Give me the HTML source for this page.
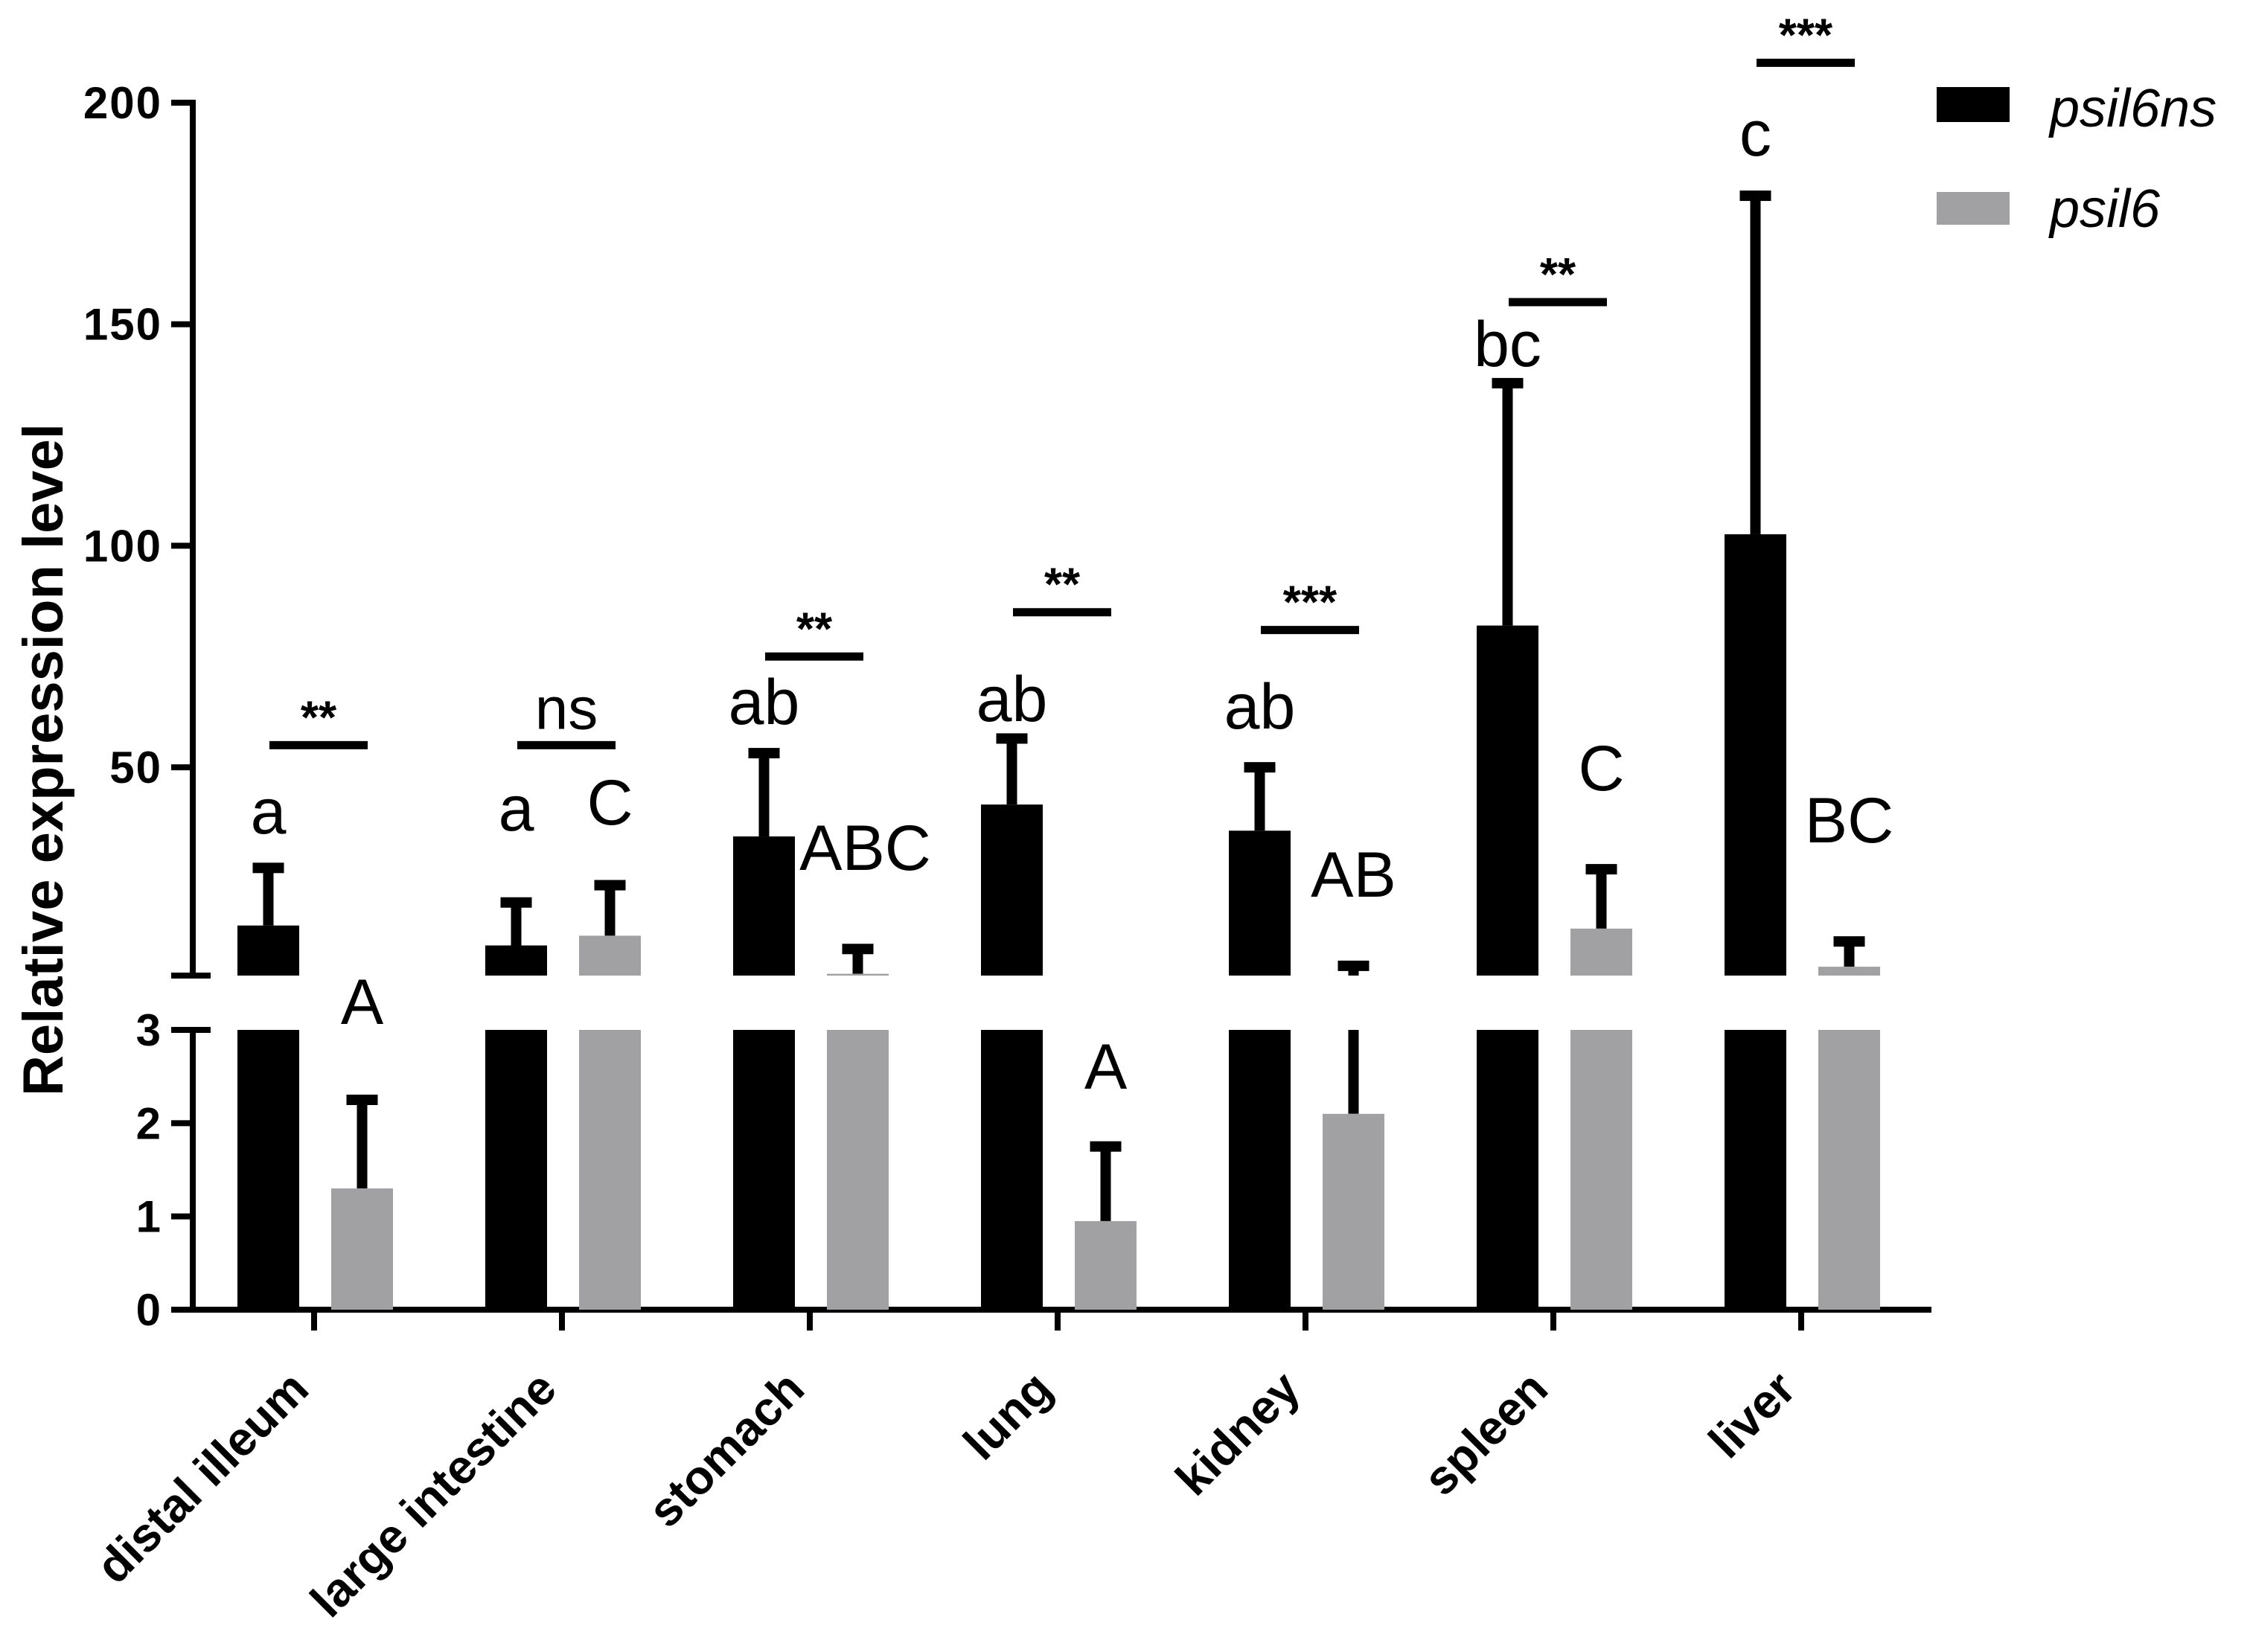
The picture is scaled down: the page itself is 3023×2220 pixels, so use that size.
<!DOCTYPE html>
<html><head><meta charset="utf-8"><style>
html,body{margin:0;padding:0;background:#fff;}
svg{display:block;}
text{font-family:"Liberation Sans",Arial,sans-serif;}
</style></head><body>
<svg id="chart" width="3023" height="2220" viewBox="0 0 3023 2220" xmlns="http://www.w3.org/2000/svg">
<g id="axes"></g>
<g id="bars"></g>
<g id="annot"></g>
<text x="0" y="0" transform="translate(84,1021) rotate(-90)" text-anchor="middle" font-size="76" font-weight="bold">Relative expression level</text>
<g>
<rect x="2602" y="117" width="98" height="47" fill="#000"/>
<text x="2754" y="170" font-size="72" font-style="italic">psil6ns</text>
<rect x="2602" y="258" width="98" height="44" fill="#a1a1a4"/>
<text x="2754" y="305" font-size="72" font-style="italic">psil6</text>
</g>
</svg>
<script>
const categories = ["distal illeum","large intestine","stomach","lung","kidney","spleen","liver"];
const psil6nsMean = [14.3, 9.8, 34.4, 41.6, 35.7, 82, 102.6];
const psil6nsErr = [27.3, 19.5, 53.2, 56.5, 50, 136.7, 179];
const psil6Mean = [1.3, 12, 3.4, 0.95, 2.1, 13.6, 5];
const psil6Err = [2.25, 23.4, 9, 1.75, 5.2, 27, 10.7];
const lowerTicks = [0,1,2,3];
const upperTicks = [50,100,150,200];
const letterNs = ["a","a","ab","ab","ab","bc","c"];
const letterPs = ["A","C","ABC","A","AB","C","BC"];
const sigLabels = ["**","ns","**","**","***","**","***"];
const sigLevel = [55, 55, 75, 85, 81, 155, 209];
// annotation text baselines (layout, px)
const letterNsBase = [1120,1116,973,969,979,492,209];
const letterPsBase = [1376,1108,1169,1463,1205,1062,1132];

const NS="http://www.w3.org/2000/svg";
function el(tag, attrs, parent, txt){const e=document.createElementNS(NS,tag);for(const k in attrs)e.setAttribute(k,attrs[k]);if(txt!==undefined)e.textContent=txt;parent.appendChild(e);return e;}
const L0=1760, L3=1384, U3=1311, U200=138;
function yLow(v){return L0-(L0-L3)*v/3;}
function yUp(v){return U3-(U3-U200)*(v-3)/197;}
function yAny(v){return v<=3?yLow(v):yUp(v);}
const X0=422, DX=333;
function xc(i){return X0+i*DX;}
const AX=259;
const axes=document.getElementById('axes'), bars=document.getElementById('bars'), annot=document.getElementById('annot');

let a1=el('line',{x1:AX,y1:U200-4,x2:AX,y2:U3,stroke:'#000','stroke-width':8},axes);


let a2=el('line',{x1:AX,y1:L3,x2:AX,y2:L0,stroke:'#000','stroke-width':8},axes);


[U3,L3].forEach(y=>{const b=el('line',{x1:230,y1:y,x2:283,y2:y,stroke:'#000','stroke-width':8},axes);

});
let xa=el('line',{x1:230,y1:L0,x2:2595,y2:L0,stroke:'#000','stroke-width':8},axes);


function tick(y,label){
  const t=el('line',{x1:230,y1:y,x2:AX,y2:y,stroke:'#000','stroke-width':8},axes);
  
  
  const tx=el('text',{x:218,y:y+21,'text-anchor':'end','font-size':60,'font-weight':'bold','letter-spacing':2},axes,label);
  
  
}
lowerTicks.forEach(v=>tick(yLow(v),String(v)));
upperTicks.forEach(v=>tick(yUp(v),String(v)));

function segRect(x,w,v,fill,name){
  const yl=yLow(Math.min(v,3));
  const r=el('rect',{x:x,y:yl,width:w,height:L0-yl,fill:fill},bars);
  
  
  if(v>3){const yu=yUp(v);const r2=el('rect',{x:x,y:yu,width:w,height:U3-yu,fill:fill},bars);
  
  }
}
function errBar(cx,v,e,name){
  const g=el('g',{},bars);
  
  
  if(v<3){const top=yLow(Math.min(e,3));el('rect',{x:cx-7,y:top,width:14,height:yLow(v)-top,fill:'#000'},g);}
  if(e>3){const bot=v>3?yUp(v):U3;const top=yUp(e);el('rect',{x:cx-7,y:top,width:14,height:bot-top,fill:'#000'},g);}
  el('rect',{x:cx-21,y:yAny(e)-7,width:42,height:14,fill:'#000'},g);
}
categories.forEach((c,i)=>{
  const cx=xc(i);
  const bx=cx-103, gx=cx+23, w=83;
  errBar(bx+w/2,psil6nsMean[i],psil6nsErr[i],'error-bar-psil6ns-'+i);
  segRect(bx,w,psil6nsMean[i],'#000','bar-psil6ns-'+c.replace(/ /g,'-'));
  errBar(gx+w/2,psil6Mean[i],psil6Err[i],'error-bar-psil6-'+i);
  segRect(gx,w,psil6Mean[i],'#a1a1a4','bar-psil6-'+c.replace(/ /g,'-'));
  const t=el('line',{x1:cx,y1:L0,x2:cx,y2:L0+28,stroke:'#000','stroke-width':8},axes);
  
  
  const lb=el('text',{x:0,y:0,transform:`translate(${cx-4},${1870}) rotate(-45)`,'text-anchor':'end','font-size':64,'font-weight':'bold'},axes,c);
  
  
  const l1=el('text',{x:bx+w/2,y:letterNsBase[i],'text-anchor':'middle','font-size':86},annot,letterNs[i]);
  
  
  const l2=el('text',{x:gx+w/2+(letterPs[i].length>2?10:0),y:letterPsBase[i],'text-anchor':'middle','font-size':86},annot,letterPs[i]);
  
  
  const sy=yUp(sigLevel[i]);
  const sl=el('line',{x1:cx-60,y1:sy,x2:cx+72,y2:sy,stroke:'#000','stroke-width':11},annot);
  
  
  const isNs=sigLabels[i]==='ns';
  const st=el('text',{x:cx+6,y:isNs?sy-22:sy-16,'text-anchor':'middle','font-size':isNs?80:62,'font-weight':isNs?'normal':'bold'},annot,sigLabels[i]);
  
  
});
</script>
</body></html>
